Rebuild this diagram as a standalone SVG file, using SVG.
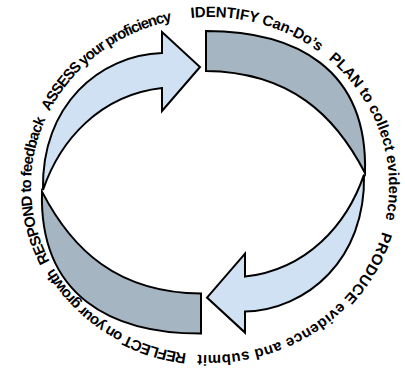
<svg xmlns="http://www.w3.org/2000/svg" width="405" height="372" viewBox="0 0 405 372">
  <style>
    .front { fill: #cfe1f2; stroke: #000; stroke-width: 2; stroke-linejoin: miter; }
    .back { fill: #a6b5c2; stroke: #000; stroke-width: 2; stroke-linejoin: miter; }
    .label { font-family: "Liberation Sans", Arial, sans-serif; font-weight: bold; font-size: 15px; fill: #000; }
  </style>
  <defs>
    <!-- clockwise ring the step labels run along, starting at the bottom; it loops twice so no label is cut at the seam -->
    <path id="ring" d="M210,355 A179,169 0 1 1 210,17 A179,169 0 1 1 210,355 A179,169 0 1 1 210,17 A179,169 0 1 1 210,355"/>
  </defs>

  <!-- twisted ribbon: two back bands and two front arrows, point-symmetric -->
  <g id="connectors">
    <g id="band-upper-right">
      <path class="back" d="M206,31 C295,31 368,68 365,173 C335,115 290,72 206,71 Z"/>
    </g>
    <g id="band-lower-left" transform="rotate(180 203.5 182.3)">
      <path class="back" d="M206,31 C295,31 368,68 365,173 C335,115 290,72 206,71 Z"/>
    </g>
    <g id="arrow-upper-left">
      <path class="front" d="M162,53 C100,55 41,105 43,190 C60,140 100,95 162,88 L162,111 L200,67 L162,32 Z"/>
    </g>
    <g id="arrow-lower-right" transform="rotate(180 203.5 182.3)">
      <path class="front" d="M162,53 C100,55 41,105 43,190 C60,140 100,95 162,88 L162,111 L200,67 L162,32 Z"/>
    </g>
  </g>

  <!-- cycle steps, clockwise -->
  <g id="step-reflect">
    <text class="label" text-anchor="middle" letter-spacing="-0.9"><textPath href="#ring" startOffset="105">REFLECT on your growth</textPath></text>
  </g>
  <g id="step-respond">
    <text class="label" text-anchor="middle" letter-spacing="-0.8"><textPath href="#ring" startOffset="268">RESPOND to feedback</textPath></text>
  </g>
  <g id="step-assess">
    <text class="label" text-anchor="middle" letter-spacing="-1.1"><textPath href="#ring" startOffset="429">ASSESS your proficiency</textPath></text>
  </g>
  <g id="step-identify">
    <text class="label" text-anchor="middle" letter-spacing="-0.15"><textPath href="#ring" startOffset="595">IDENTIFY Can-Do’s</textPath></text>
  </g>
  <g id="step-plan">
    <text class="label" text-anchor="middle"><textPath href="#ring" startOffset="764">PLAN to collect evidence</textPath></text>
  </g>
  <g id="step-produce">
    <text class="label" text-anchor="middle" letter-spacing="0.45"><textPath href="#ring" startOffset="986">PRODUCE evidence and submit</textPath></text>
  </g>
</svg>
